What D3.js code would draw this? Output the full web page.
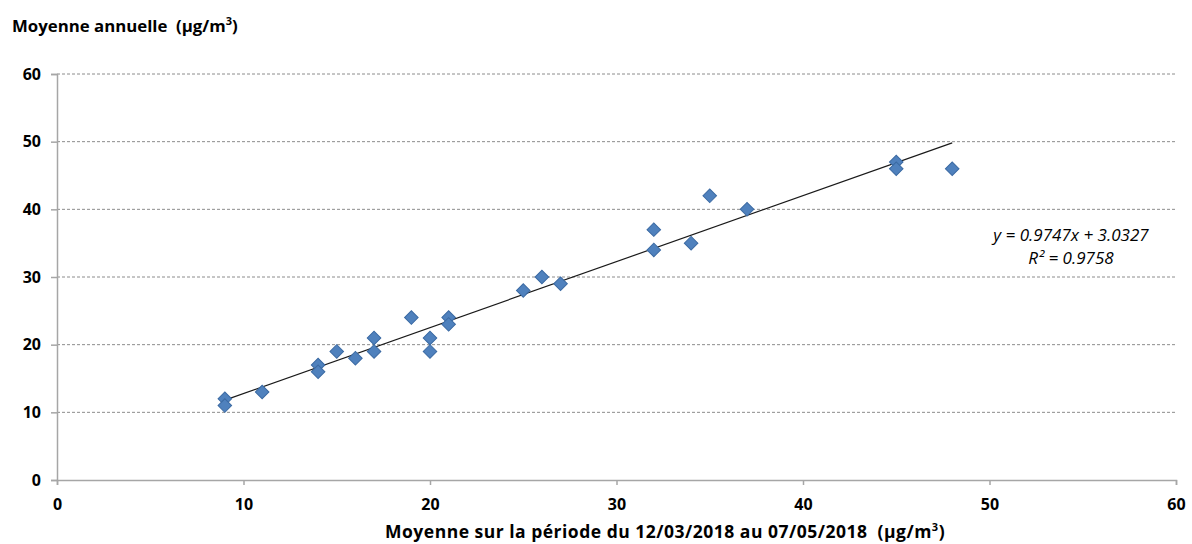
<!DOCTYPE html>
<html>
<head>
<meta charset="utf-8">
<script src="https://cdn.jsdelivr.net/npm/d3@7"></script>
<style>
  html, body { margin: 0; padding: 0; background: #fff; }
  svg { display: block; font-family: "Open Sans", "Noto Sans", sans-serif; }
  text { white-space: pre; }
</style>
</head>
<body>
<svg id="chart" width="1192" height="544"></svg>
<script>
// Period mean (x) vs annual mean (y), µg/m³
const periodMean = [9, 9, 11, 14, 14, 15, 16, 17, 17, 19, 20, 20, 21, 21, 25, 26, 27, 32, 32, 34, 35, 37, 45, 45, 48];
const annualMean = [12, 11, 13, 17, 16, 19, 18, 21, 19, 24, 21, 19, 24, 23, 28, 30, 29, 37, 34, 35, 42, 40, 47, 46, 46];
const xTicks = [0, 10, 20, 30, 40, 50, 60];
const yTicks = [0, 10, 20, 30, 40, 50, 60];
const slope = 0.9747, intercept = 3.0327, r2 = 0.9758;

const svg = d3.select("#chart");
const x = d3.scaleLinear().domain([0, 60]).range([57, 1176]);
const y = d3.scaleLinear().domain([0, 60]).range([480, 74]);

// dashed horizontal gridlines
svg.append("g").selectAll("line").data(yTicks.filter(d => d > 0)).join("line")
  .attr("x1", x(0)).attr("x2", x(60))
  .attr("y1", d => y(d)).attr("y2", d => y(d))
  .attr("stroke", "#8c8c8c").attr("stroke-width", 1)
  .attr("stroke-dasharray", "3,2");

// axes
const xAxis = svg.append("g").attr("transform", `translate(0,${y(0)})`)
  .call(d3.axisBottom(x).tickValues(xTicks).tickSize(5).tickPadding(14));
const yAxis = svg.append("g").attr("transform", `translate(${x(0)},0)`)
  .call(d3.axisLeft(y).tickValues(yTicks).tickSize(6).tickPadding(10));
[xAxis, yAxis].forEach(a => {
  a.select(".domain").attr("stroke", "#a6a6a6").attr("stroke-width", 1.5);
  a.selectAll(".tick line").attr("stroke", "#a6a6a6").attr("stroke-width", 1.5);
  a.selectAll(".tick text").attr("fill", "#000").attr("font-size", 16)
    .attr("font-weight", "bold").attr("font-family", "'Open Sans', sans-serif");
});
xAxis.selectAll(".tick text").attr("dy", "0.71em");

// linear trend line
const xs = d3.extent(periodMean);
svg.append("line")
  .attr("x1", x(xs[0])).attr("y1", y(slope * xs[0] + intercept))
  .attr("x2", x(xs[1])).attr("y2", y(slope * xs[1] + intercept))
  .attr("stroke", "#1a1a1a").attr("stroke-width", 1.2);

// diamond markers
const diamond = d3.symbol().type(d3.symbolSquare).size(92);
svg.append("g").selectAll("path").data(periodMean.map((v, i) => [v, annualMean[i]])).join("path")
  .attr("d", diamond)
  .attr("transform", d => `translate(${x(d[0])},${y(d[1])}) rotate(45)`)
  .attr("fill", "#4f81bd").attr("stroke", "#3b6aa3").attr("stroke-width", 1);

// regression equation
const eq = svg.append("g").attr("font-family", "'Open Sans', sans-serif")
  .attr("font-size", 17).attr("font-style", "italic").attr("fill", "#000");
eq.append("text").attr("x", 1071).attr("y", 241).attr("text-anchor", "middle")
  .text(`y = ${slope}x + ${intercept}`);
eq.append("text").attr("x", 1071).attr("y", 264).attr("text-anchor", "middle")
  .text(`R² = ${r2}`);

// axis titles
const title = svg.append("text").attr("x", 12).attr("y", 32)
  .attr("font-size", 16.8)
  .attr("font-weight", "bold").attr("fill", "#000");
title.append("tspan").text("Moyenne annuelle  (µg/m");
title.append("tspan").attr("font-size", 11).attr("dy", -7).text("3");
title.append("tspan").attr("dy", 7).text(")");

const xt = svg.append("text").attr("x", 385).attr("y", 538)
  .attr("font-size", 17.5).attr("letter-spacing", 0.5)
  .attr("font-weight", "bold").attr("fill", "#000");
xt.append("tspan").text("Moyenne sur la période du 12/03/2018 au 07/05/2018  (µg/m");
xt.append("tspan").attr("font-size", 11).attr("dy", -7).text("3");
xt.append("tspan").attr("dy", 7).text(")");
</script>
</body>
</html>
